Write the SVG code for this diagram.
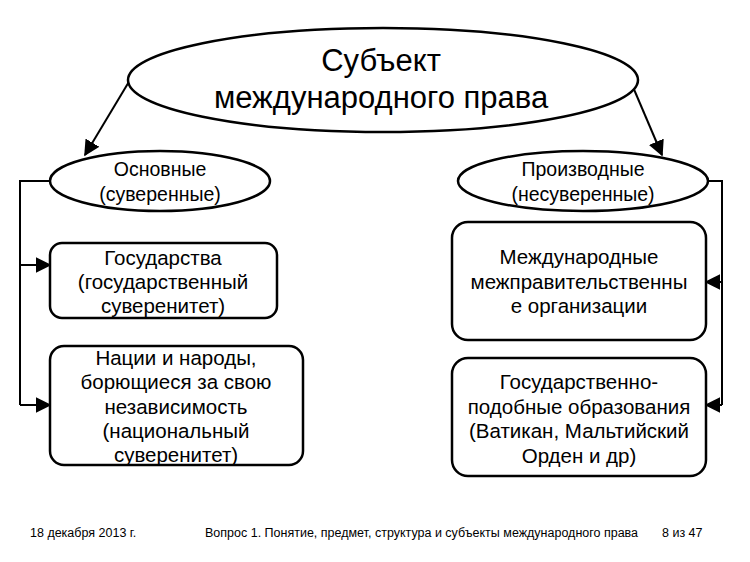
<svg xmlns="http://www.w3.org/2000/svg" width="750" height="562" viewBox="0 0 750 562">
<defs>
<marker id="a" viewBox="0 0 10 10" refX="9" refY="5" markerWidth="8" markerHeight="8" orient="auto"><path d="M0,0L10,5L0,10z" fill="#000"/></marker>
<style>
.s{fill:#fff;stroke:#000;stroke-width:2.5}
.t{font-family:"Liberation Sans",Arial,sans-serif;font-size:20.5px;text-anchor:middle;fill:#000}
.e{font-size:19.5px}
.l{fill:none;stroke:#000;stroke-width:2;marker-end:url(#a)}
.p{fill:none;stroke:#000;stroke-width:2}
.f{font-family:"Liberation Sans",Arial,sans-serif;font-size:12.5px;fill:#000}
</style>
</defs>
<rect width="750" height="562" fill="#fff"/>
<g id="connectors">
<path class="l" d="M130,80L85,155"/>
<path class="l" d="M630,80L662,155"/>
<path class="p" d="M50,181H20V405"/>
<path class="l" d="M20,265H50"/>
<path class="l" d="M20,405H50"/>
<path class="p" d="M706,181H722V405"/>
<path class="l" d="M722,282H706"/>
<path class="l" d="M722,405H706"/>
</g>
<g id="root"><ellipse class="s" cx="383" cy="80" rx="255" ry="52"/>
<text class="t" style="font-size:31px" x="381" y="71">Субъект</text>
<text class="t" style="font-size:31px" x="381" y="108">международного права</text></g>
<g id="osn"><ellipse class="s" cx="160" cy="181" rx="110" ry="30"/>
<text class="t e" x="160" y="176">Основные</text><text class="t e" x="160" y="201">(суверенные)</text></g>
<g id="proizv"><ellipse class="s" cx="583" cy="181" rx="125" ry="30"/>
<text class="t e" x="583" y="176">Производные</text><text class="t e" x="583" y="201">(несуверенные)</text></g>
<g id="gos"><rect class="s" x="50" y="243" width="227" height="75" rx="12"/>
<text class="t" x="163" y="265">Государства</text><text class="t" x="163" y="289">(государственный</text><text class="t" x="163" y="313">суверенитет)</text></g>
<g id="nacii"><rect class="s" x="50" y="346" width="253" height="119" rx="14"/>
<text class="t" x="176" y="365">Нации и народы,</text><text class="t" x="176" y="389">борющиеся за свою</text><text class="t" x="176" y="414">независимость</text><text class="t" x="176" y="438">(национальный</text><text class="t" x="176" y="462">суверенитет)</text></g>
<g id="mmo"><rect class="s" x="452" y="222" width="254" height="118" rx="16"/>
<text class="t" x="579" y="264">Международные</text><text class="t" x="579" y="289">межправительственны</text><text class="t" x="579" y="313">е организации</text></g>
<g id="gpo"><rect class="s" x="452" y="358" width="254" height="118" rx="16"/>
<text class="t" x="579" y="389">Государственно-</text><text class="t" x="579" y="414">подобные образования</text><text class="t" x="579" y="438">(Ватикан, Мальтийский</text><text class="t" x="579" y="463">Орден и др)</text></g>
<g id="footer">
<text class="f" x="30" y="537">18 декабря 2013 г.</text>
<text class="f" x="205" y="537">Вопрос 1. Понятие, предмет, структура и субъекты международного права</text>
<text class="f" x="662" y="537">8 из 47</text>
</g>
</svg>
